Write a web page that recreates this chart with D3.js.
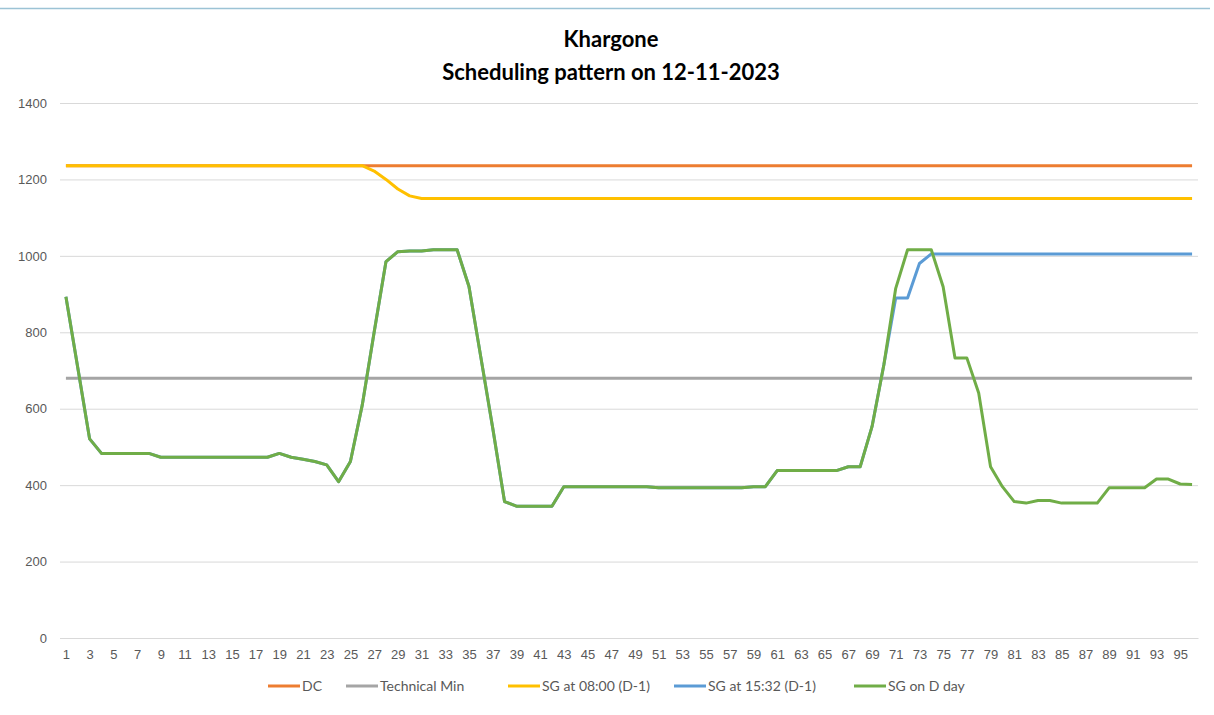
<!DOCTYPE html>
<html>
<head>
<meta charset="utf-8">
<script src="https://cdn.jsdelivr.net/npm/d3@7"></script>
<style>
  body { margin: 0; background: #fff; }
  svg { font-family: "Lato", "Open Sans", sans-serif; }
</style>
</head>
<body>
<script>
// time blocks 1..96
var blocks = d3.range(1, 97);

var dcValue = 1236;       // DC
var techMinValue = 680;   // Technical Min

// SG at 08:00 (D-1)
var sg0800 = [
  1236, 1236, 1236, 1236, 1236, 1236, 1236, 1236, 1236, 1236,
  1236, 1236, 1236, 1236, 1236, 1236, 1236, 1236, 1236, 1236,
  1236, 1236, 1236, 1236, 1236, 1236, 1222, 1200, 1175, 1157,
  1150, 1150, 1150, 1150, 1150, 1150, 1150, 1150, 1150, 1150,
  1150, 1150, 1150, 1150, 1150, 1150, 1150, 1150, 1150, 1150,
  1150, 1150, 1150, 1150, 1150, 1150, 1150, 1150, 1150, 1150,
  1150, 1150, 1150, 1150, 1150, 1150, 1150, 1150, 1150, 1150,
  1150, 1150, 1150, 1150, 1150, 1150, 1150, 1150, 1150, 1150,
  1150, 1150, 1150, 1150, 1150, 1150, 1150, 1150, 1150, 1150,
  1150, 1150, 1150, 1150, 1150, 1150
];

// SG on D day
var sgDday = [
  893, 707, 521, 483, 483, 483, 483, 483, 473, 473,
  473, 473, 473, 473, 473, 473, 473, 473, 483, 473,
  468, 462, 453, 409, 462, 610, 800, 985, 1011, 1013,
  1013, 1016, 1016, 1016, 920, 735, 550, 357, 345, 345,
  345, 345, 396, 396, 396, 396, 396, 396, 396, 396,
  393, 393, 393, 393, 393, 393, 393, 393, 396, 396,
  438, 438, 438, 438, 438, 438, 448, 448, 553, 715,
  915, 1016, 1016, 1016, 919, 733, 733, 641, 448, 396,
  357, 353, 360, 360, 353, 353, 353, 353, 393, 393,
  393, 393, 416, 416, 403, 402
];

// SG at 15:32 (D-1): same as D day up to block 70
var sg1532 = sgDday.slice(0, 70).concat([
  890, 890, 980, 1005, 1005, 1005, 1005, 1005, 1005, 1005,
  1005, 1005, 1005, 1005, 1005, 1005, 1005, 1005, 1005, 1005,
  1005, 1005, 1005, 1005, 1005, 1005
]);

var yTicks = [0, 200, 400, 600, 800, 1000, 1200, 1400];

var seriesNames = ["DC", "Technical Min", "SG at 08:00 (D-1)", "SG at 15:32 (D-1)", "SG on D day"];
var seriesColors = ["#ED7D31", "#A5A5A5", "#FFC000", "#5B9BD5", "#70AD47"];
var seriesValues = [
  blocks.map(function() { return dcValue; }),
  blocks.map(function() { return techMinValue; }),
  sg0800,
  sg1532,
  sgDday
];

var w = 1214;
var h = 715;

var svg = d3.select("body")
            .append("svg")
            .attr("width", w)
            .attr("height", h);

// thin top border
svg.append("line")
    .attr("x1", 0).attr("x2", 1210)
    .attr("y1", 8.5).attr("y2", 8.5)
    .attr("stroke", "#9CC3D5")
    .attr("stroke-width", 1.5);

var x = d3.scalePoint()
          .domain(blocks)
          .range([60, 1198])
          .padding(0.5);

var y = d3.scaleLinear()
          .domain([0, 1400])
          .range([638, 103]);

//title
svg.append("text")
    .attr("x", 611).attr("y", 47)
    .attr("text-anchor", "middle")
    .attr("font-size", 22).attr("font-weight", "bold")
    .attr("fill", "#000")
    .text("Khargone");
svg.append("text")
    .attr("x", 611).attr("y", 80)
    .attr("text-anchor", "middle")
    .attr("font-size", 22).attr("font-weight", "bold")
    .attr("fill", "#000")
    .text("Scheduling pattern on 12-11-2023");

//gridlines
var yAxis = d3.axisLeft(y)
              .tickValues(yTicks)
              .tickFormat(d3.format("d"))
              .tickSize(-(1198 - 60))
              .tickPadding(13);
var gy = svg.append("g")
            .attr("transform", "translate(60,0)")
            .call(yAxis);
gy.select(".domain").remove();
gy.selectAll(".tick line").attr("stroke", "#D9D9D9");
gy.selectAll(".tick text")
    .attr("fill", "#595959")
    .attr("font-size", 13);

//x axis labels
var xAxis = d3.axisBottom(x)
              .tickValues(blocks.filter(function(d) { return d % 2 === 1; }))
              .tickSize(0)
              .tickPadding(12);
var gx = svg.append("g")
            .attr("transform", "translate(0,638)")
            .call(xAxis);
gx.select(".domain").attr("stroke", "#D9D9D9");
gx.selectAll(".tick text")
    .attr("fill", "#595959")
    .attr("font-size", 13);

//lines
var line = d3.line()
             .x(function(d, i) { return x(blocks[i]); })
             .y(function(d) { return y(d); });

svg.selectAll("path.series")
    .data(seriesValues)
    .enter()
    .append("path")
    .attr("class", "series")
    .attr("fill", "none")
    .attr("stroke", function(d, i) { return seriesColors[i]; })
    .attr("stroke-width", 3)
    .attr("stroke-linejoin", "round")
    .attr("d", line);

//legend
var legendX = [268, 346, 508, 674, 854];
var legend = svg.selectAll("g.legend")
                .data(seriesNames)
                .enter()
                .append("g")
                .attr("class", "legend")
                .attr("transform", function(d, i) { return "translate(" + legendX[i] + ",686)"; });
legend.append("line")
    .attr("x1", 0).attr("x2", 32)
    .attr("stroke", function(d, i) { return seriesColors[i]; })
    .attr("stroke-width", 3);
legend.append("text")
    .attr("x", 34).attr("y", 5)
    .attr("font-size", 14)
    .attr("fill", "#595959")
    .text(function(d) { return d; });
</script>
</body>
</html>
